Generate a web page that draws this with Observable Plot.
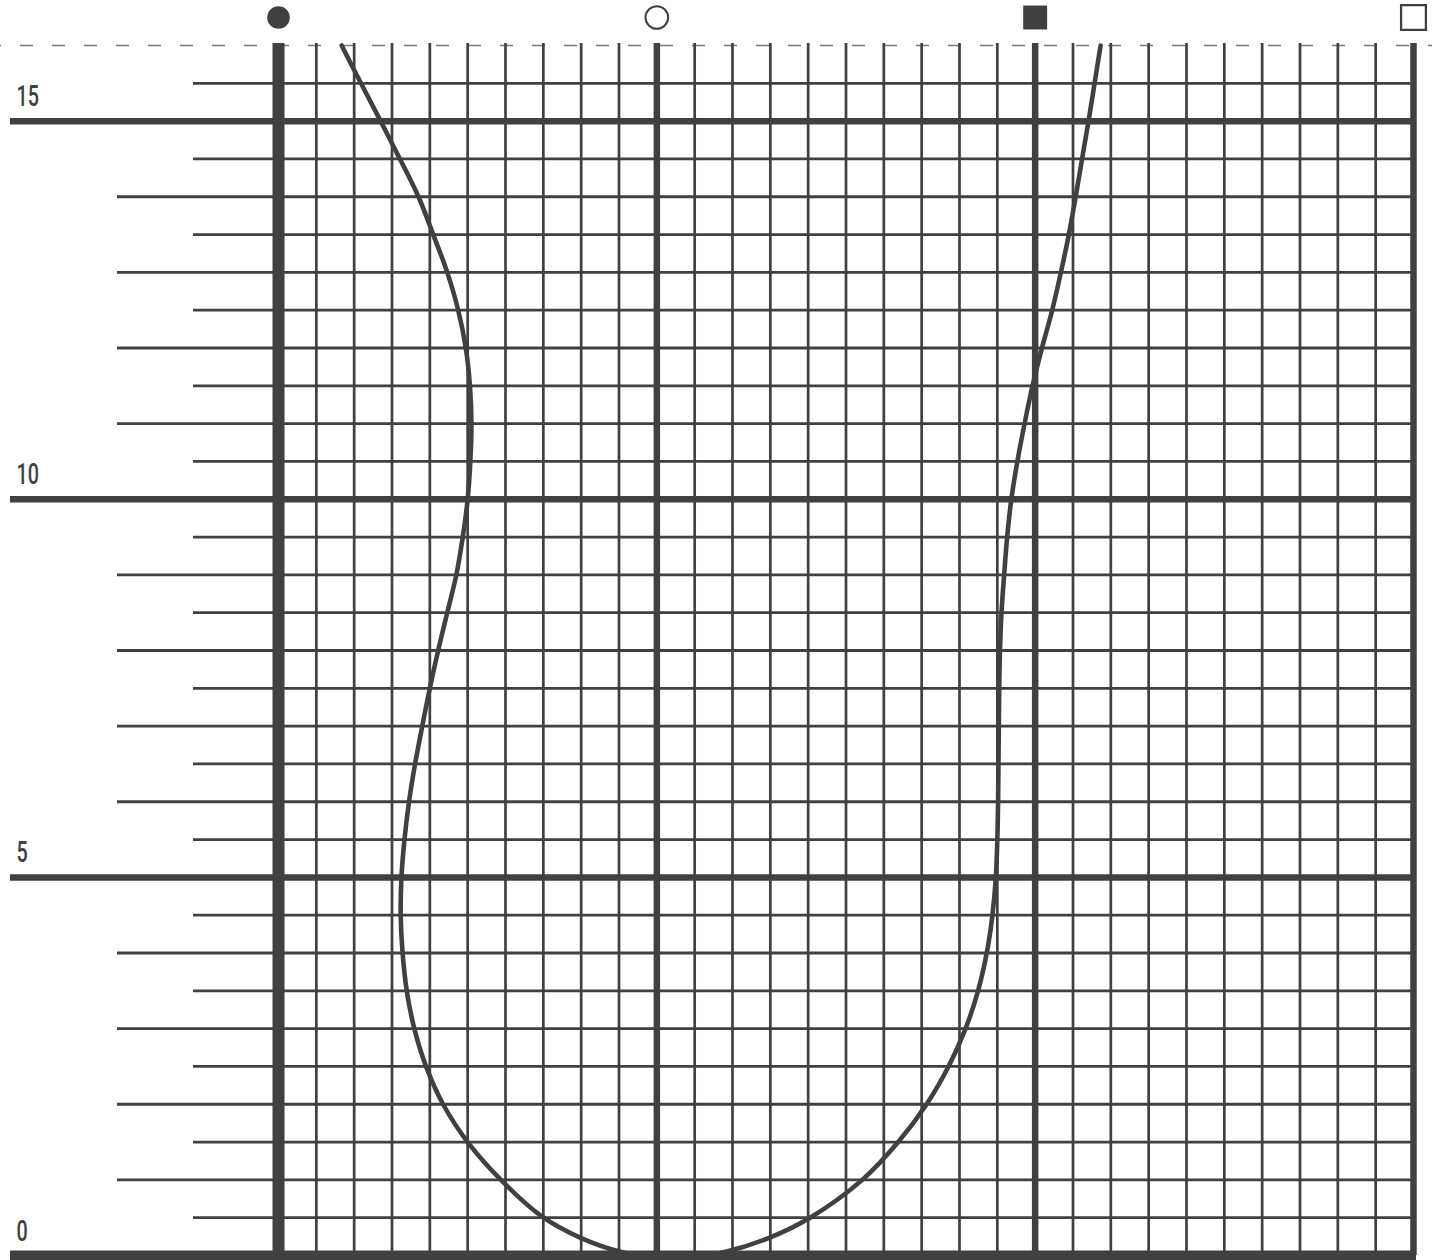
<!DOCTYPE html>
<html>
<head>
<meta charset="utf-8">
<script src="https://cdn.jsdelivr.net/npm/d3@7"></script>
<script src="https://cdn.jsdelivr.net/npm/@observablehq/plot@0.6"></script>
<style>
  html, body { margin: 0; padding: 0; background: #fff; }
  #chart svg { display: block; }
</style>
</head>
<body>
<div id="chart"></div>
<script>
// ---- data ----
const xDomain = [0, 30];
const yDomain = [0, 16];
const yLabelValues = [0, 5, 10, 15];
const yLabelTexts = ["0", "5", "10", "15"];
const markerNames = ["filled circle", "open circle", "filled square", "open square"];
const markerX = [0, 10, 20, 30];

const curveX = [1.67,2.18,2.70,3.21,3.70,4.09,4.46,4.75,4.95,5.06,
  5.10,5.07,5.00,4.87,4.70,4.46,4.22,4.00,3.80,3.61,
  3.45,3.33,3.25,3.23,3.28,3.39,3.59,3.90,4.35,5.00,
  5.88,6.95,8.00,9.04,10.43,11.82,12.95,
  14.05,15.43,16.38,17.13,17.71,18.16,18.49,18.72,18.87,18.96,
  19.00,19.02,19.03,19.04,19.05,19.07,19.11,19.18,19.26,19.37,
  19.53,19.72,19.93,20.18,20.45,20.68,20.89,21.07,21.24,21.41,
  21.57,21.73];
const curveY = [16,15.5,15,14.5,14,13.5,13,12.5,12,11.5,
  11,10.5,10,9.5,9,8.5,8,7.5,7,6.5,
  6,5.5,5,4.5,4,3.5,3,2.5,2,1.5,
  1,0.52,0.23,0.05,-0.06,0.05,0.23,
  0.5,1,1.5,2,2.5,3,3.5,4,4.5,5,
  5.5,6,6.5,7,7.5,8,8.5,9,9.5,10,
  10.5,11,11.5,12,12.5,13,13.5,14,14.5,15,
  15.5,16];

// ---- derived ----
const ink = "#404040";
const W = 1432, H = 1260;
const mL = 278, mR = 19, mT = 45, mB = 5;

const minorX = d3.range(xDomain[0] + 1, xDomain[1]).filter(v => v % 10 !== 0);
const majorX = d3.range(10, xDomain[1] + 1, 10);
const halfY = d3.range(0.5, yDomain[1], 1);
const intY = d3.range(1, yDomain[1], 1).filter(v => v % 5 !== 0);
const majorY = yLabelValues.filter(v => v > 0);
const curveIdx = d3.range(curveX.length);
const markerIdx = d3.range(markerNames.length);

const markerStyle = {
  "filled circle": {symbol: "circle", fill: ink, stroke: "none", r: 11.3},
  "open circle": {symbol: "circle", fill: "none", stroke: ink, strokeWidth: 2, r: 11.3},
  "filled square": {symbol: "square", fill: ink, stroke: "none", r: 13.5},
  "open square": {symbol: "square", fill: "none", stroke: ink, strokeWidth: 2.3, r: 14}
};

const chart = Plot.plot({
  width: W,
  height: H,
  marginLeft: mL,
  marginRight: mR,
  marginTop: mT,
  marginBottom: mB,
  style: {background: "#fff", overflow: "visible"},
  x: {domain: xDomain, axis: null},
  y: {domain: yDomain, axis: null},
  marks: [
    // dashed top line
    Plot.ruleY([yDomain[1]], {stroke: "#7a7a7a", strokeWidth: 1.5, strokeDasharray: "13,19", strokeDashoffset: 12, insetLeft: -mL, insetRight: -mR}),
    // horizontal grid
    Plot.ruleY(halfY, {stroke: ink, strokeWidth: 2.7, insetLeft: -(mL - 193)}),
    Plot.ruleY(intY, {stroke: ink, strokeWidth: 2.8, insetLeft: -(mL - 117)}),
    Plot.ruleY(majorY, {stroke: ink, strokeWidth: 6.5, insetLeft: -(mL - 10)}),
    // vertical grid
    Plot.ruleX(minorX, {stroke: ink, strokeWidth: 2.7, insetTop: -2}),
    Plot.ruleX(majorX, {stroke: ink, strokeWidth: 6.5, insetTop: -2}),
    // curve
    Plot.line(curveIdx, {x: i => curveX[i], y: i => curveY[i], curve: "catmull-rom", stroke: ink, strokeWidth: 4.6}),
    // axis lines
    Plot.ruleX([xDomain[0]], {stroke: ink, strokeWidth: 12, insetTop: -2, insetBottom: -6}),
    Plot.ruleY([yDomain[0]], {stroke: ink, strokeWidth: 10, insetLeft: -(mL - 10), insetRight: -3}),
    // labels
    Plot.text(yLabelValues, {
      y: d => d, text: (d, i) => yLabelTexts[i], frameAnchor: "left",
      dx: 16 - mL, dy: -15, textAnchor: "start", lineAnchor: "bottom",
      fontSize: 29, fontFamily: "Roboto, 'Liberation Sans Narrow', sans-serif",
      fontWeight: 500, fill: ink
    }),
    // series markers
    ...markerIdx.map(i => {
      const s = markerStyle[markerNames[i]];
      return Plot.dot([i], {x: j => markerX[j], frameAnchor: "top", dy: -28, ...s});
    })
  ]
});

d3.select(chart).selectAll("text").each(function () {
  const t = this.getAttribute("transform") || "";
  this.setAttribute("transform", t + " scale(0.68,1)");
});

document.getElementById("chart").appendChild(chart);
</script>
</body>
</html>
